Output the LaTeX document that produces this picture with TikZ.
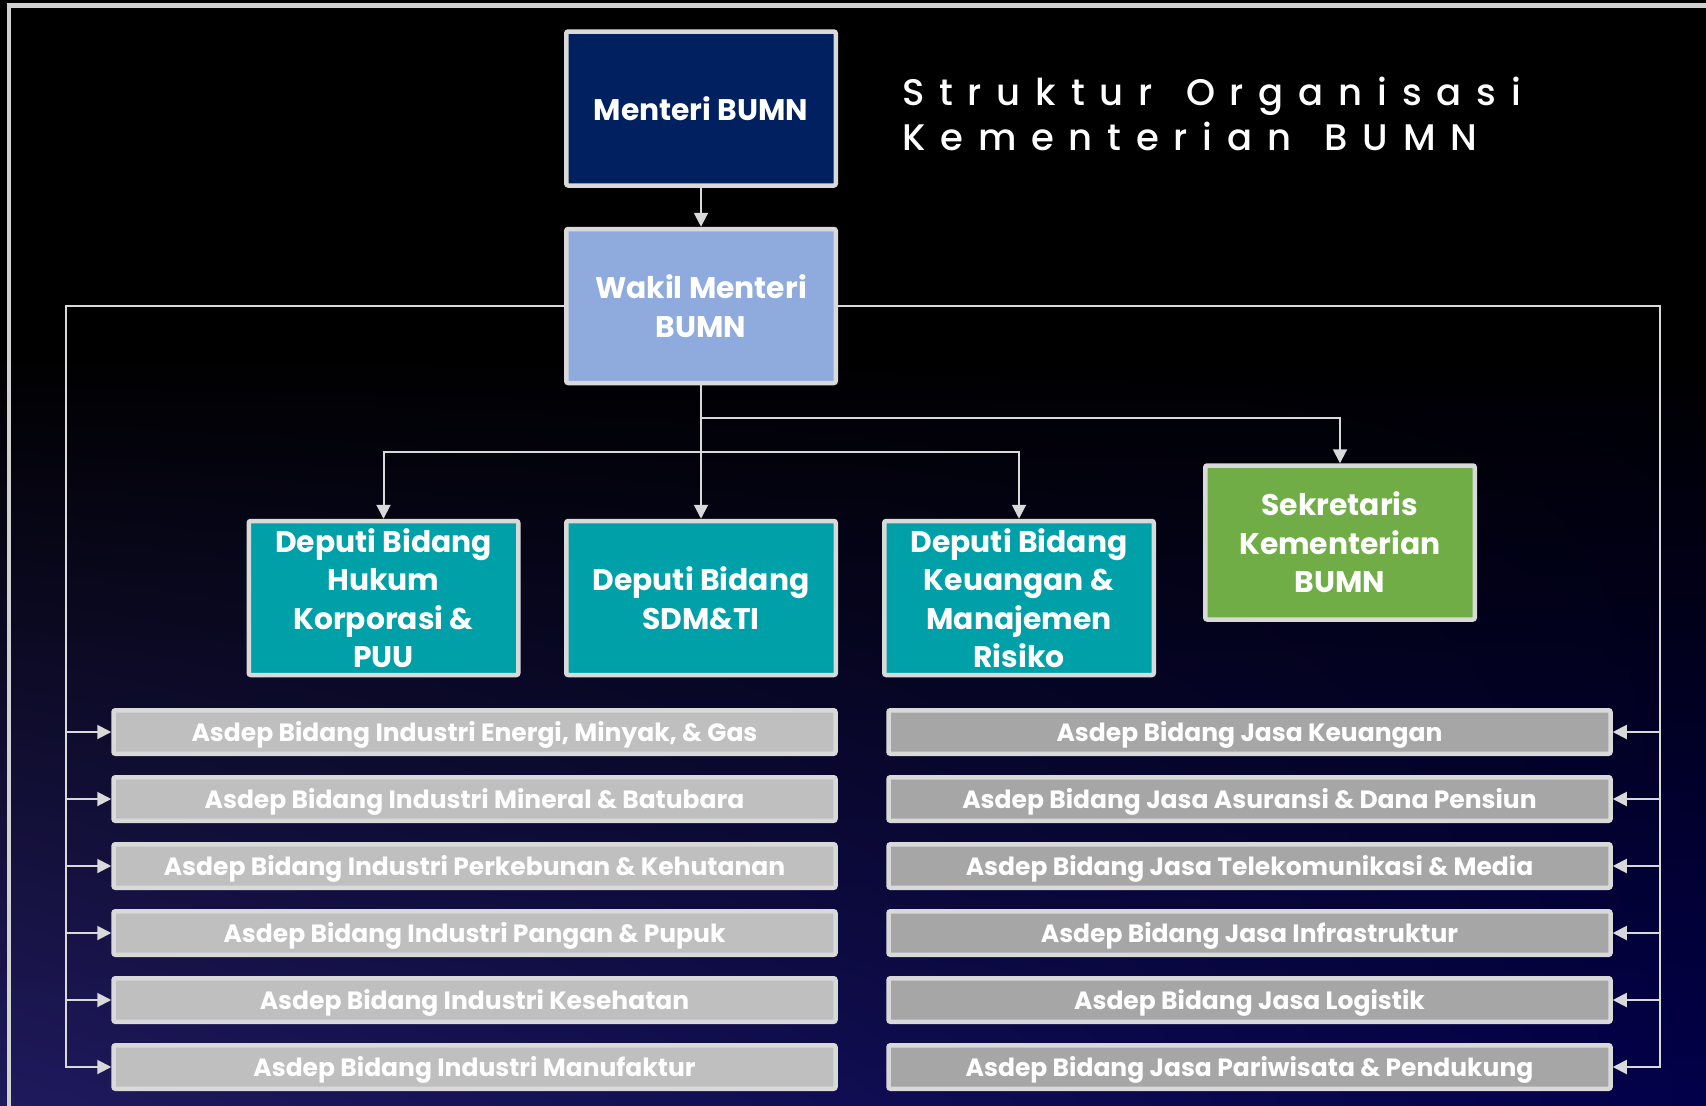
\documentclass[tikz,border=0pt]{standalone}
\usepackage{fontspec}
\setmainfont{Poppins}
\newfontfamily\titlefont[LetterSpace=40]{Poppins Medium}
\usetikzlibrary{arrows.meta,calc,shadings}
\definecolor{frameC}{HTML}{D0D0D0}
\definecolor{lineC}{HTML}{D9D9D9}
\definecolor{menteriC}{HTML}{002060}
\definecolor{wakilC}{HTML}{8FAADC}
\definecolor{deputiC}{HTML}{00A0A9}
\definecolor{sekC}{HTML}{70AD47}
\definecolor{asdepL}{HTML}{BFBFBF}
\definecolor{asdepR}{HTML}{A6A6A6}
\definecolor{bgLL}{RGB}{31,26,92}
\definecolor{bgLR}{RGB}{2,0,74}
\tikzset{
  box/.style={draw=lineC, line width=4.5pt, rounded corners=2pt, inner sep=0pt,
    align=center, text=white, font=\bfseries\fontsize{29.8}{38.5}\selectfont,
    minimum width=269.5pt, minimum height=154pt},
  asdep/.style={draw=lineC, line width=4.5pt, rounded corners=2pt, inner sep=0pt,
    align=center, text=white, font=\bfseries\fontsize{25}{28}\selectfont,
    text depth=0.5pt, minimum width=722pt, minimum height=43.5pt},
  conn/.style={draw=lineC, line width=2pt},
  arr/.style={conn, -{Triangle[length=14pt,width=14pt]}},
  ttl/.style={anchor=base west, text=white, inner sep=0pt,
    font=\titlefont\fontsize{37}{44}\selectfont},
}
\begin{document}
\begin{tikzpicture}[x=1pt,y=-1pt]
\useasboundingbox (0,0) rectangle (1706,1106);
\clip (0,0) rectangle (1706,1106);
\fill[black] (0,0) rectangle (1706,1106);
\shade[upper left=black, upper right=black, lower left=bgLL, lower right=bgLR]
  (0,350) rectangle (1706,1106);
\draw[frameC, line width=4.5pt] (9,1120) -- (9,5.5) -- (1720,5.5);

% title
\node[ttl] (t1) at (902,105) {Struktur\hspace{9pt} Organisasi};
\node[ttl] (t2) at (902,150) {Kementerian\hspace{9pt} BUMN};

% top boxes
\node[box, fill=menteriC] (menteri) at (701,108.5) {Menteri BUMN};
\node[box, fill=wakilC] (wakil) at (701,306) {Wakil Menteri\\BUMN};

% deputies
\node[box, fill=deputiC] (dep1) at (383.5,598) {Deputi Bidang\\Hukum\\Korporasi \&\\PUU};
\node[box, fill=deputiC] (dep2) at (701,598) {Deputi Bidang\\SDM\&TI};
\node[box, fill=deputiC] (dep3) at (1019,598) {Deputi Bidang\\Keuangan \&\\Manajemen\\Risiko};
\node[box, fill=sekC] (sek) at (1340,542.5) {Sekretaris\\Kementerian\\BUMN};

% asdep boxes
\node[asdep, fill=asdepL] (aL1) at (474.5,732) {Asdep Bidang Industri Energi, Minyak, \& Gas};
\node[asdep, fill=asdepL] (aL2) at (474.5,799) {Asdep Bidang Industri Mineral \& Batubara};
\node[asdep, fill=asdepL] (aL3) at (474.5,866) {Asdep Bidang Industri Perkebunan \& Kehutanan};
\node[asdep, fill=asdepL] (aL4) at (474.5,933) {Asdep Bidang Industri Pangan \& Pupuk};
\node[asdep, fill=asdepL] (aL5) at (474.5,1000) {Asdep Bidang Industri Kesehatan};
\node[asdep, fill=asdepL] (aL6) at (474.5,1067) {Asdep Bidang Industri Manufaktur};

\node[asdep, fill=asdepR] (aR1) at (1249.5,732) {Asdep Bidang Jasa Keuangan};
\node[asdep, fill=asdepR] (aR2) at (1249.5,799) {Asdep Bidang Jasa Asuransi \& Dana Pensiun};
\node[asdep, fill=asdepR] (aR3) at (1249.5,866) {Asdep Bidang Jasa Telekomunikasi \& Media};
\node[asdep, fill=asdepR] (aR4) at (1249.5,933) {Asdep Bidang Jasa Infrastruktur};
\node[asdep, fill=asdepR] (aR5) at (1249.5,1000) {Asdep Bidang Jasa Logistik};
\node[asdep, fill=asdepR] (aR6) at (1249.5,1067) {Asdep Bidang Jasa Pariwisata \& Pendukung};

% connectors
\coordinate (j1) at (701,452);
\coordinate (j2) at (701,418);
\coordinate (lbus) at (66,305);
\coordinate (rbus) at (1660,305);

\draw[arr] (menteri.south) -- (wakil.north);
\draw[arr] (wakil.south) -- (dep2.north);
\draw[arr] (j1) -| (dep1.north);
\draw[arr] (j1) -| (dep3.north);
\draw[arr] (j2) -| (sek.north);

\draw[arr] (wakil.west) -| (aL6.west -| lbus) -- (aL6.west);
\foreach \i in {1,...,5} {\draw[arr] (aL\i.west -| lbus) -- (aL\i.west);}
\draw[arr] (wakil.east) -| (aR6.east -| rbus) -- (aR6.east);
\foreach \i in {1,...,5} {\draw[arr] (aR\i.east -| rbus) -- (aR\i.east);}
\end{tikzpicture}
\end{document}
